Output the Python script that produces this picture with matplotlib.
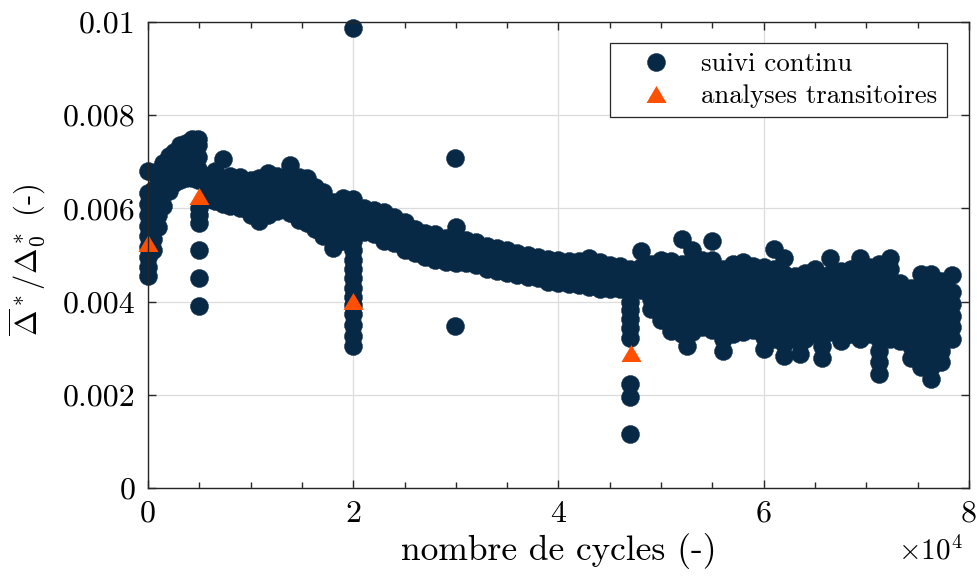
import numpy as np
import matplotlib
matplotlib.use('Agg')
import matplotlib.pyplot as plt

plt.rcParams['font.family'] = ['cmr10', 'DejaVu Serif']
plt.rcParams['mathtext.fontset'] = 'cm'
plt.rcParams['axes.unicode_minus'] = False

# continuous monitoring: each entry is (cycles, [values])
start_cols = [
    (0, [0.00455, 0.00475, 0.00496, 0.00518, 0.00540, 0.00562, 0.00586, 0.00610, 0.00633, 0.00680]),
    (500, [0.00510, 0.00535, 0.00560, 0.00585, 0.00610, 0.00640]),
    (1000, [0.00560, 0.00585, 0.00610, 0.00635, 0.00660, 0.00680]),
    (1500, [0.00605, 0.00630, 0.00655, 0.00680, 0.00698]),
    (2000, [0.00638, 0.00663, 0.00688, 0.00712]),
    (2500, [0.00655, 0.00680, 0.00705, 0.00722]),
    (3100, [0.00662, 0.00687, 0.00712, 0.00737]),
    (3700, [0.00665, 0.00690, 0.00715, 0.00740]),
    (4300, [0.00665, 0.00690, 0.00715, 0.00740, 0.00748]),
    (4900, [0.00660, 0.00685, 0.00710, 0.00735, 0.00750]),
]

decay_cols = [
    (5800, [0.00620, 0.00645, 0.00670]),
    (6500, [0.00615, 0.00640, 0.00665, 0.00680]),
    (7300, [0.00610, 0.00635, 0.00660, 0.00705]),
    (8000, [0.00605, 0.00630, 0.00655, 0.00670]),
    (9000, [0.00600, 0.00625, 0.00650, 0.00668]),
    (10000, [0.00585, 0.00610, 0.00635, 0.00660]),
    (10800, [0.00573, 0.00598, 0.00623, 0.00648, 0.00665]),
    (11700, [0.00585, 0.00610, 0.00635, 0.00660, 0.00675]),
    (12600, [0.00594, 0.00619, 0.00644, 0.00669]),
    (13800, [0.00590, 0.00615, 0.00640, 0.00665, 0.00694]),
    (14700, [0.00575, 0.00600, 0.00625, 0.00650, 0.00668]),
    (15500, [0.00569, 0.00594, 0.00619, 0.00644, 0.00665]),
    (16300, [0.00555, 0.00580, 0.00605, 0.00630, 0.00645]),
    (17100, [0.00540, 0.00565, 0.00590, 0.00615, 0.00635]),
    (18000, [0.00515, 0.00540, 0.00565, 0.00590, 0.00613]),
    (19000, [0.00530, 0.00555, 0.00580, 0.00605, 0.00622]),
    (21000, [0.00550, 0.00575, 0.00600]),
    (22000, [0.00545, 0.00570, 0.00597]),
    (23000, [0.00530, 0.00555, 0.00580, 0.00592]),
    (24000, [0.00525, 0.00550, 0.00575, 0.00582]),
    (25000, [0.00510, 0.00535, 0.00560, 0.00570]),
    (26000, [0.00504, 0.00529, 0.00556]),
    (27000, [0.00495, 0.00520, 0.00548]),
    (28000, [0.00490, 0.00515, 0.00545]),
    (29000, [0.00486, 0.00511, 0.00536]),
    (30000, [0.00483, 0.00508, 0.00533, 0.00560]),
    (31000, [0.00483, 0.00508, 0.00533]),
    (32000, [0.00478, 0.00503, 0.00528]),
    (33000, [0.00470, 0.00495, 0.00520]),
    (34000, [0.00466, 0.00491, 0.00514]),
    (35000, [0.00462, 0.00487, 0.00510]),
    (36000, [0.00458, 0.00483, 0.00505]),
    (37000, [0.00452, 0.00477, 0.00500]),
    (38000, [0.00450, 0.00475, 0.00496]),
    (39000, [0.00442, 0.00467, 0.00492]),
    (40000, [0.00440, 0.00465, 0.00490]),
    (41000, [0.00437, 0.00462, 0.00488]),
    (42000, [0.00435, 0.00460, 0.00488]),
    (43000, [0.00432, 0.00457, 0.00482, 0.00494]),
    (44000, [0.00428, 0.00453, 0.00478, 0.00486]),
    (45000, [0.00428, 0.00453, 0.00478]),
    (46000, [0.00426, 0.00451, 0.00476]),
]

# drops recorded at each transient analysis
drop_cols = [
    (5000, [0.00391, 0.00451, 0.00511, 0.00568, 0.00585, 0.00600]),
    (20000, [0.00305, 0.00327, 0.00350, 0.00373, 0.00392, 0.00410, 0.00430, 0.00450,
             0.00470, 0.00490, 0.00510, 0.00530, 0.00555, 0.00580, 0.00605, 0.00620]),
    (47000, [0.00115, 0.00196, 0.00224, 0.00322, 0.00344, 0.00362, 0.00383, 0.00400,
             0.00420, 0.00445, 0.00470]),
]

noisy_cols = [
    (48000, [0.00425, 0.00450, 0.00475, 0.00508]),
    (49000, [0.00384, 0.00405, 0.00430, 0.00455, 0.00480]),
    (50000, [0.00360, 0.00385, 0.00410, 0.00435, 0.00460, 0.00490]),
    (51000, [0.00337, 0.00362, 0.00387, 0.00412, 0.00437, 0.00462, 0.00487]),
    (52000, [0.00330, 0.00355, 0.00380, 0.00405, 0.00430, 0.00455, 0.00480, 0.00534]),
    (52500, [0.00305]),
    (53000, [0.00335, 0.00360, 0.00385, 0.00410, 0.00435, 0.00460, 0.00485, 0.00510]),
    (54000, [0.00345, 0.00370, 0.00395, 0.00420, 0.00445, 0.00470, 0.00490]),
    (55000, [0.00340, 0.00365, 0.00390, 0.00415, 0.00440, 0.00465, 0.00490, 0.00530]),
    (56000, [0.00294, 0.00320, 0.00345, 0.00370, 0.00395, 0.00420, 0.00445, 0.00470]),
    (57000, [0.00330, 0.00355, 0.00380, 0.00405, 0.00430, 0.00455, 0.00480]),
    (58000, [0.00335, 0.00360, 0.00385, 0.00410, 0.00435, 0.00460, 0.00485]),
    (59000, [0.00340, 0.00365, 0.00390, 0.00415, 0.00440, 0.00465, 0.00477]),
    (60000, [0.00299, 0.00325, 0.00350, 0.00375, 0.00400, 0.00425, 0.00450, 0.00475]),
    (61000, [0.00320, 0.00345, 0.00370, 0.00395, 0.00420, 0.00445, 0.00470, 0.00512]),
    (62000, [0.00284, 0.00310, 0.00335, 0.00360, 0.00385, 0.00410, 0.00435, 0.00460, 0.00494]),
    (63000, [0.00330, 0.00355, 0.00380, 0.00405, 0.00430, 0.00455]),
    (63500, [0.00288, 0.00312, 0.00362, 0.00412]),
    (64000, [0.00320, 0.00345, 0.00370, 0.00395, 0.00420, 0.00445, 0.00462]),
    (65000, [0.00330, 0.00355, 0.00380, 0.00405, 0.00430, 0.00455, 0.00470]),
    (65700, [0.00280, 0.00305, 0.00342, 0.00392, 0.00442]),
    (66500, [0.00335, 0.00360, 0.00385, 0.00410, 0.00435, 0.00460, 0.00494]),
    (67500, [0.00316, 0.00340, 0.00365, 0.00390, 0.00415, 0.00440, 0.00465]),
    (68500, [0.00330, 0.00355, 0.00380, 0.00405, 0.00430, 0.00455, 0.00470]),
    (69400, [0.00320, 0.00345, 0.00370, 0.00395, 0.00420, 0.00445, 0.00470, 0.00494]),
    (70300, [0.00330, 0.00355, 0.00380, 0.00405, 0.00430, 0.00455, 0.00475]),
    (71200, [0.00245, 0.00270, 0.00295, 0.00320, 0.00345, 0.00370, 0.00395, 0.00420,
             0.00445, 0.00470, 0.00480]),
    (72300, [0.00320, 0.00345, 0.00370, 0.00395, 0.00420, 0.00445, 0.00470, 0.00494]),
    (73300, [0.00316, 0.00340, 0.00365, 0.00390, 0.00415, 0.00440]),
    (74300, [0.00280, 0.00305, 0.00330, 0.00355, 0.00380, 0.00405, 0.00430]),
    (75300, [0.00260, 0.00285, 0.00310, 0.00335, 0.00360, 0.00385, 0.00410, 0.00435, 0.00460]),
    (76300, [0.00233, 0.00260, 0.00285, 0.00310, 0.00335, 0.00360, 0.00385, 0.00410,
             0.00435, 0.00460]),
    (77300, [0.00270, 0.00295, 0.00320, 0.00345, 0.00370, 0.00395, 0.00420, 0.00445]),
    (78300, [0.00320, 0.00345, 0.00370, 0.00395, 0.00420, 0.00458]),
]

outlier_x = [20000, 29900, 29900]
outlier_y = [0.00988, 0.00709, 0.00347]

# transient analyses
trans_x = [0, 5000, 20000, 47100]
trans_y = [0.00526, 0.00627, 0.00401, 0.00289]

xticks = [0, 20000, 40000, 60000, 80000]
xtick_labels = ['0', '2', '4', '6', '8']
yticks = [0, 0.002, 0.004, 0.006, 0.008, 0.01]
ytick_labels = ['0', '0.002', '0.004', '0.006', '0.008', '0.01']

navy = '#082946'
orange = '#ff4f00'

cont_x, cont_y = [], []
for cols in (start_cols, decay_cols, drop_cols, noisy_cols):
    for cx, vals in cols:
        cont_x += [cx] * len(vals)
        cont_y += vals
cont_x += outlier_x
cont_y += outlier_y

fig = plt.figure(figsize=(9.78, 5.8), dpi=100)
ax = fig.add_axes([148 / 978, 92 / 580, 821 / 978, 466 / 580])

ax.plot(cont_x, cont_y, 'o', ms=13, mfc=navy, mec=navy, mew=0.3, clip_on=False,
        label='suivi continu')
tri = [(0, 0.85), (-1, -0.85), (1, -0.85)]
ax.plot(trans_x, trans_y, linestyle='none', marker=tri, ms=14.4, mfc=orange, mec=orange,
        mew=0, clip_on=False, label='analyses transitoires')

ax.set_xlim(0, 80000)
ax.set_ylim(0, 0.01)
ax.set_xticks(xticks)
ax.set_xticklabels(xtick_labels)
ax.set_xticks(np.arange(0, 80001, 5000), minor=True)
ax.set_yticks(yticks)
ax.set_yticklabels(ytick_labels)
ax.tick_params(which='both', direction='in', top=True, right=True, labelsize=23,
               width=1, color='#262626')
ax.tick_params(which='major', length=6, pad=9)
ax.tick_params(which='minor', length=4)
ax.grid(True, which='major', color='#dcdcdc', lw=0.9)
ax.set_axisbelow(True)
for s in ax.spines.values():
    s.set_linewidth(1.0)
    s.set_color('#262626')

ax.set_xlabel('nombre de cycles (-)', fontsize=25.5, labelpad=4)
ax.set_ylabel(r'$\overline{\Delta}^*/\Delta_0^*$ (-)', fontsize=22)
ax.yaxis.set_label_coords(-0.122, 0.49)
fig.text(963 / 978, 15 / 580, r'$\times10^4$', fontsize=21, ha='right', va='bottom')

leg = ax.legend(loc='upper right', bbox_to_anchor=(0.973, 0.955), borderaxespad=0,
                fontsize=19.3, fancybox=False, edgecolor='#262626', framealpha=1,
                borderpad=0.35, handlelength=2.7, handletextpad=0.35, labelspacing=0.3,
                numpoints=1)
leg.get_frame().set_linewidth(0.9)

fig.savefig('out.png', dpi=100)
